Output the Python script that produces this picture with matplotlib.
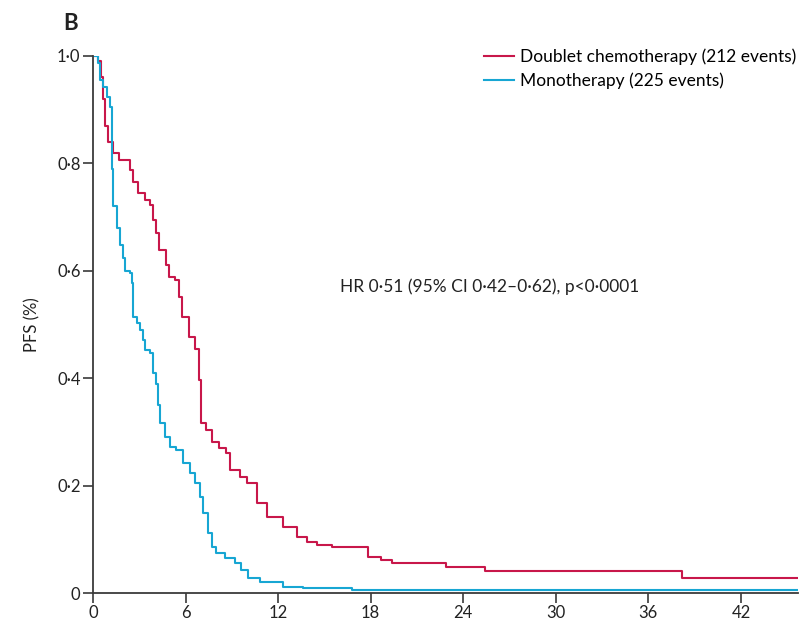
import matplotlib
matplotlib.use("Agg")
import matplotlib.pyplot as plt

# Kaplan-Meier steps (months, PFS proportion)
doublet_t = [0, 0.3, 0.5, 0.65, 0.8, 1.0, 1.3, 1.7, 2.4, 2.6, 2.9, 3.4, 3.7, 3.9, 4.1,
             4.3, 4.7, 4.9, 5.3, 5.6, 5.8, 6.2, 6.6, 6.9, 7.0, 7.3, 7.7, 8.2, 8.6, 8.9,
             9.5, 10.0, 10.6, 11.3, 12.3, 13.2, 13.9, 14.5, 15.5, 17.8, 18.7, 19.4,
             22.9, 25.4, 38.2, 45.7]
doublet_s = [1.0, 0.99, 0.96, 0.92, 0.87, 0.84, 0.82, 0.806, 0.788, 0.765, 0.745, 0.732,
             0.722, 0.695, 0.67, 0.639, 0.611, 0.588, 0.583, 0.551, 0.514, 0.476, 0.454,
             0.397, 0.317, 0.304, 0.281, 0.27, 0.26, 0.229, 0.216, 0.205, 0.168, 0.142,
             0.123, 0.105, 0.095, 0.09, 0.085, 0.067, 0.061, 0.056, 0.048, 0.041, 0.028,
             0.028]

mono_t = [0, 0.32, 0.45, 0.65, 0.9, 1.1, 1.2, 1.3, 1.55, 1.75, 1.95, 2.07, 2.4, 2.5,
          2.6, 2.85, 3.05, 3.25, 3.37, 3.7, 3.9, 4.1, 4.2, 4.35, 4.65, 5.0, 5.4, 5.85,
          6.3, 6.6, 6.95, 7.15, 7.47, 7.7, 8.0, 8.55, 9.2, 9.6, 10.05, 10.8, 12.3, 13.6,
          16.8, 45.7]
mono_s = [1.0, 0.987, 0.955, 0.942, 0.924, 0.905, 0.79, 0.72, 0.68, 0.648, 0.623, 0.6,
          0.595, 0.577, 0.514, 0.503, 0.49, 0.471, 0.452, 0.447, 0.41, 0.39, 0.35, 0.317,
          0.29, 0.272, 0.266, 0.242, 0.223, 0.205, 0.179, 0.149, 0.112, 0.086, 0.074,
          0.065, 0.056, 0.043, 0.028, 0.02, 0.011, 0.009, 0.006, 0.006]

x_ticks = [0, 6, 12, 18, 24, 30, 36, 42]
y_ticks = [0, 0.2, 0.4, 0.6, 0.8, 1.0]
y_labels = ['0', '0·2', '0·4', '0·6', '0·8', '1·0']

red = '#c8174a'
blue = '#17a6d3'
grey = '#3a3a3a'

plt.rcParams['font.family'] = ['Lato', 'DejaVu Sans']

fig = plt.figure(figsize=(8.01, 6.24), dpi=100)
ax = fig.add_axes([93 / 801, 31 / 624, 705 / 801, 537 / 624])

ax.step(doublet_t, doublet_s, where='post', color=red, lw=1.5,
        label='Doublet chemotherapy (212 events)')
ax.step(mono_t, mono_s, where='post', color=blue, lw=1.5,
        label='Monotherapy (225 events)')

ax.set_xlim(0, 45.7)
ax.set_ylim(0, 1.0)
ax.set_xticks(x_ticks)
ax.set_yticks(y_ticks)
ax.set_yticklabels(y_labels)
for s in ['top', 'right']:
    ax.spines[s].set_visible(False)
for s in ['left', 'bottom']:
    ax.spines[s].set_color(grey)
    ax.spines[s].set_linewidth(1.3)
ax.tick_params(direction='out', length=7, width=1.2, color=grey,
               labelsize=12, labelcolor='#222222', pad=2)
ax.set_ylabel('PFS (%)', fontsize=12, color='#222222', labelpad=12)

ax.text(16.0, 0.57, 'HR 0·51 (95% CI 0·42–0·62), p<0·0001', fontsize=12.5,
        color='#222222', va='center', ha='left')

fig.text(63 / 801, 1 - 24 / 624, 'B', fontsize=16, fontweight='bold',
         color='#222222', va='center', ha='left')

ax.legend(loc='upper right', bbox_to_anchor=(1.008, 1.027), frameon=False,
          fontsize=12.5, handlelength=1.75, handletextpad=0.35, labelspacing=0.45,
          borderaxespad=0)

fig.savefig('out.png', dpi=100)
